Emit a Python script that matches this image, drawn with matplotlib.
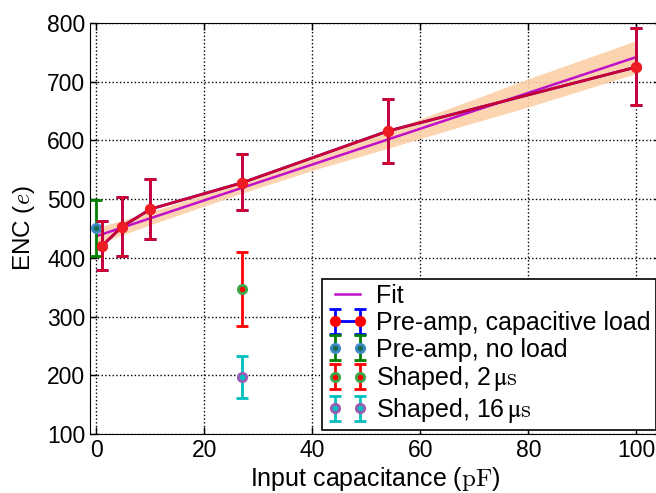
import matplotlib
matplotlib.use('Agg')
import matplotlib.pyplot as plt
from matplotlib.container import ErrorbarContainer
from matplotlib.legend_handler import HandlerErrorbar, HandlerLine2D
from matplotlib.lines import Line2D
import numpy as np

plt.rcParams['font.family'] = ['Liberation Sans', 'DejaVu Sans']
plt.rcParams['mathtext.fontset'] = 'cm'
plt.rcParams['xtick.direction'] = 'in'
plt.rcParams['ytick.direction'] = 'in'
plt.rcParams['xtick.top'] = True
plt.rcParams['ytick.right'] = True

# pre-amp with capacitive load
cap = [1, 4.7, 10, 27, 54, 100]
enc_cap = [420, 453, 483, 528, 616, 725]
err_cap_lo = [41, 50, 51, 47, 55, 65]
err_cap_hi = [43, 50, 52, 49, 55, 67]

# pre-amp, no load
cap_noload = [0]
enc_noload = [451]
err_noload = [48]

# shaped outputs
cap_shaped = [27]
enc_2us = [347]
err_2us = [63]
enc_16us = [197]
err_16us = [36]

# linear fit and its band
fit_x = [0, 10, 27, 40, 54, 70, 80, 90, 100]
fit_y = [437, 467.5, 519.4, 559, 601.7, 650.5, 681, 711.5, 742]
band_half = [14, 11, 9, 10, 15, 20, 24, 26, 28]

fig = plt.figure(figsize=(6.56, 4.93), dpi=100)
ax = fig.add_axes([90 / 656, 0.1197, 0.87, 0.8337])

fx = np.array(fit_x)
fy = np.array(fit_y)
bh = np.array(band_half)
ax.fill_between(fx, fy - bh, fy + bh, color='#fdd0a8', alpha=0.9, lw=0, zorder=1)
ax.plot(fx, fy, color='#c010c8', lw=1.8, label='Fit', zorder=3)

ax.errorbar(cap, enc_cap, yerr=[err_cap_lo, err_cap_hi], fmt='-o', color='b',
            mfc='r', mec='r', ms=7, lw=2, elinewidth=2, capsize=4, capthick=2,
            label='Pre-amp, capacitive load', zorder=4)
ax.errorbar(cap, enc_cap, yerr=[err_cap_lo, err_cap_hi], fmt='-', color='r',
            alpha=0.8, lw=2, elinewidth=2, capsize=4, capthick=2, zorder=5)
ax.plot(cap, enc_cap, 'o', color='#ee1c25', ms=7, zorder=6)

ax.errorbar(cap_noload, enc_noload, yerr=err_noload, fmt='o', color='g',
            mfc='#1a6b50', mec='#3d8ac8', ms=6, mew=2, elinewidth=2, capsize=4,
            capthick=2, label='Pre-amp, no load', zorder=4)
ax.errorbar(cap_shaped, enc_2us, yerr=err_2us, fmt='o', color='r',
            mfc='r', mec='#3aa84a', ms=6, mew=2, elinewidth=2, capsize=4,
            capthick=2, label=r'Shaped, 2$\,\mathrm{μs}$', zorder=4)
ax.errorbar(cap_shaped, enc_16us, yerr=err_16us, fmt='o', color='c',
            mfc='c', mec='#9a5cb4', ms=6, mew=2, elinewidth=2, capsize=4,
            capthick=2, label=r'Shaped, 16$\,\mathrm{μs}$', zorder=4)

ax.set_xlim(-1.2, 104.5)
ax.set_ylim(100, 800)
ax.set_xticks([0, 20, 40, 60, 80, 100])
ax.set_yticks(range(100, 801, 100))
ax.tick_params(labelsize=16.5, length=5, width=1)
ax.grid(True, color='k', linestyle=':', lw=1)
ax.set_axisbelow(True)

ax.set_xlabel(r'Input capacitance ($\mathrm{pF}$)', fontsize=18, labelpad=2)
ax.set_ylabel(r'ENC ($e$)', fontsize=17.5)
ax.yaxis.set_label_coords(-0.092, 0.5)

hpad = 0.32
leg = ax.legend(loc='lower left', bbox_to_anchor=(322 / 656, 63 / 493),
                bbox_transform=fig.transFigure, borderaxespad=0,
                numpoints=2, fontsize=18, fancybox=False,
                framealpha=1, edgecolor='k', handlelength=1.0 + hpad,
                labelspacing=0.11, handletextpad=0.64, borderpad=0.2,
                handler_map={ErrorbarContainer: HandlerErrorbar(marker_pad=0, xpad=hpad),
                             Line2D: HandlerLine2D(marker_pad=0, xpad=hpad)})
leg.get_frame().set_linewidth(1.2)

fig.savefig('out.png', dpi=100)
